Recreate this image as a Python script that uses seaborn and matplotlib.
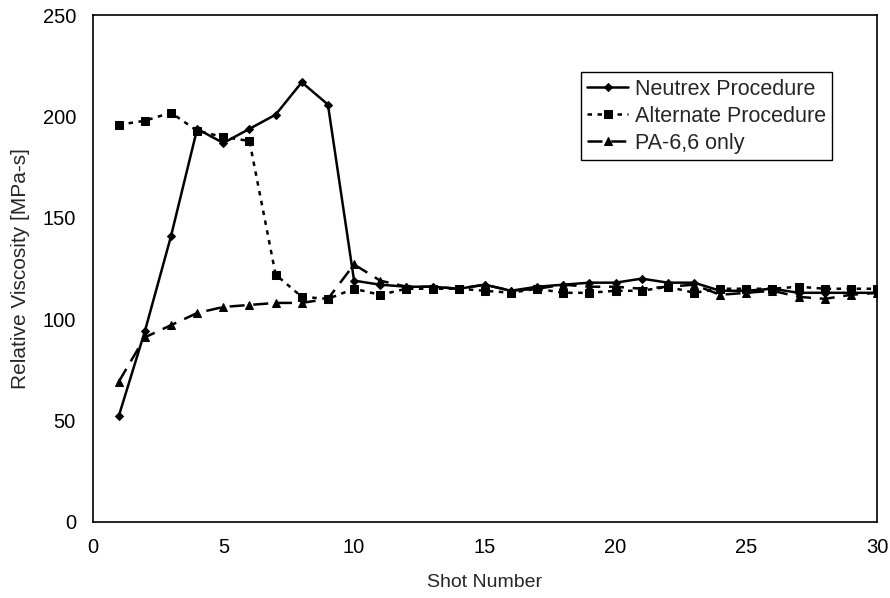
import matplotlib
matplotlib.use("Agg")
import matplotlib.pyplot as plt
import seaborn as sns
import pandas as pd

shots = list(range(1, 31))
neutrex = [52, 94, 141, 194, 187, 194, 201, 217, 206, 119,
           117, 116, 116, 115, 117, 114, 116, 117, 118, 118,
           120, 118, 118, 114, 114, 115, 113, 113, 113, 113]
alternate = [196, 198, 202, 193, 190, 188, 122, 111, 110, 115,
             112, 115, 115, 115, 114, 113, 115, 113, 113, 114,
             114, 116, 113, 115, 115, 115, 116, 115, 115, 115]
pa66 = [69, 91, 97, 103, 106, 107, 108, 108, 110, 127,
        119, 116, 116, 115, 117, 114, 115, 117, 116, 116,
        115, 116, 117, 112, 113, 114, 111, 110, 112, 113]

series_names = ["Neutrex Procedure", "Alternate Procedure", "PA-6,6 only"]

sns.set_style("white")
plt.rcParams['font.family'] = ['Liberation Sans', 'DejaVu Sans']

fig = plt.figure(figsize=(8.9, 5.98), dpi=100)
ax = fig.add_axes([0.1040, 0.1279, 0.8815, 0.8462])

df = pd.DataFrame({"shot": shots, "neutrex": neutrex,
                   "alternate": alternate, "pa66": pa66})

common = dict(ax=ax, color="black", linewidth=1.8,
              markeredgecolor="black")
sns.lineplot(data=df, x="shot", y="neutrex", marker="D", markersize=4,
             linestyle="-", label=series_names[0], **common)
sns.lineplot(data=df, x="shot", y="alternate", marker="s", markersize=6,
             dashes=(1.8, 2.2), label=series_names[1], **common)
sns.lineplot(data=df, x="shot", y="pa66", marker="^", markersize=6,
             dashes=(6, 3.5), label=series_names[2], **common)

ax.set_xlim(0, 30)
ax.set_ylim(0, 250)
ax.set_xticks([0, 5, 10, 15, 20, 25, 30])
ax.set_yticks([0, 50, 100, 150, 200, 250])
ax.tick_params(axis="both", direction="out", length=5, width=1,
               labelsize=14.5, colors="black", pad=7)
ax.set_xlabel("Shot Number", fontsize=14, labelpad=12)
ax.set_ylabel("Relative Viscosity [MPa-s]", fontsize=15, labelpad=9)

for s in ax.spines.values():
    s.set_visible(True)
    s.set_color("black")
    s.set_linewidth(1.2)

leg = ax.legend(loc="upper left", bbox_to_anchor=(0.6225, 0.888),
                frameon=True, fancybox=False, framealpha=1,
                edgecolor="black", fontsize=15.5, handlelength=1.9,
                handletextpad=0.3, borderpad=0.3, labelspacing=0.28,
                borderaxespad=0)
leg.get_frame().set_linewidth(1.0)

fig.savefig("out.png", dpi=100)
